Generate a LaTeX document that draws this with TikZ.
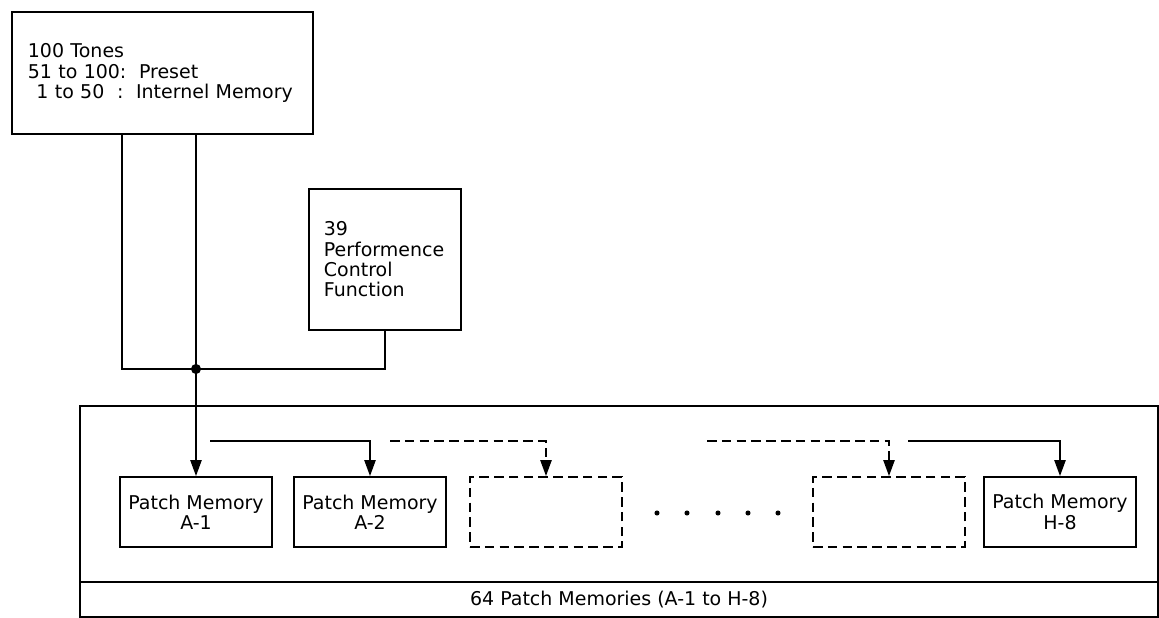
\documentclass[tikz,border=0pt]{standalone}
\usepackage{fontspec}
\setmainfont{DejaVu Sans}
\usetikzlibrary{arrows.meta}

\begin{document}
\begin{tikzpicture}[
    x=0.025cm, y=-0.025cm,
    every node/.style={font=\fontsize{13.5}{14.5}\selectfont},
    box/.style={draw, line width=1.3pt, inner sep=0pt},
    patch/.style={box, minimum width=3.8cm, minimum height=1.75cm, align=center},
    hidden/.style={patch, dashed, dash pattern=on 2.4mm off 1.3mm},
    wire/.style={line width=1.3pt},
    flow/.style={wire, -{Triangle[length=0.4cm,width=0.28cm]}}
]
    \useasboundingbox (0,0) rectangle (1159,618);

    % sources
    \node[box, anchor=north west, minimum width=7.525cm, minimum height=3.05cm,
          text width=6.725cm, align=left] (tones) at (11,11)
        {100 Tones\\51 to 100:\ \ Preset\\\hspace{0.45em}1 to 50\ \ :\ \ Internel Memory};

    \node[box, anchor=north west, minimum width=3.8cm, minimum height=3.525cm,
          text width=3.05cm, align=left] (perf) at (308,188)
        {39\\Performence\\Control\\Function};

    % patch memory bank
    \node[box, anchor=north west, minimum width=26.95cm, minimum height=5.275cm] (bank) at (79,405) {};
    \node[box, anchor=south west, minimum width=26.95cm, minimum height=0.875cm] (banklabel) at (bank.south west)
        {64 Patch Memories (A-1 to H-8)};

    \node[patch] (p1) at (196,512) {Patch Memory\\A-1};
    \node[patch] (p2) at (370,512) {Patch Memory\\A-2};
    \node[hidden] (p3) at (546,512) {};
    \node[hidden] (p4) at (889,512) {};
    \node[patch] (p8) at (1060,512) {Patch Memory\\H-8};

    \foreach \x in {657,687,718,748,778}
        \fill (\x,513) circle (1.8pt);

    % connections
    \coordinate (lft) at (122,133);
    \coordinate (jn) at (196,369);
    \draw[wire] (lft) |- (jn) -| (perf.south);
    \draw[flow] (tones.south -| p1) -- (p1.north);
    \fill (jn) circle (3.6pt);

    \coordinate (s2) at (210,441);
    \coordinate (s3) at (390,441);
    \coordinate (s4) at (707,441);
    \coordinate (s8) at (908,441);
    \draw[flow] (s2) -| (p2.north);
    \draw[flow, dashed, dash pattern=on 2.4mm off 1.3mm] (s3) -| (p3.north);
    \draw[flow, dashed, dash pattern=on 2.4mm off 1.3mm] (s4) -| (p4.north);
    \draw[flow] (s8) -| (p8.north);

\end{tikzpicture}
\end{document}
